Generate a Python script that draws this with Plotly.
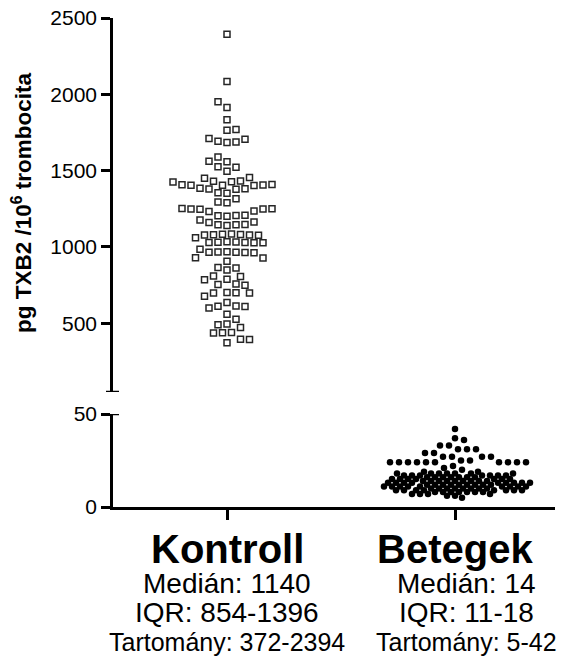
import numpy as np
import plotly.graph_objects as go

# ---------------- data ----------------
categories = ["Kontroll", "Betegek"]

kontroll_values = [
    2394, 2084, 1951, 1914, 1833, 1770, 1765, 1710, 1705, 1692, 1688, 1685,
    1590, 1562, 1558, 1526, 1522, 1496, 1455, 1450, 1432, 1430, 1428, 1426,
    1410, 1408, 1406, 1405, 1404, 1402, 1385, 1382, 1380, 1378, 1356, 1352,
    1316, 1294, 1290, 1252, 1250, 1249, 1248, 1247, 1236, 1232, 1208, 1206,
    1204, 1202, 1176, 1163, 1160, 1148, 1146, 1145, 1140, 1085, 1083, 1082,
    1080, 1079, 1078, 1077, 1060, 1034, 1032, 1031, 1030, 1029, 1028, 1027,
    985, 968, 967, 966, 965, 964, 963, 930, 928, 907, 866, 862, 850, 810,
    807, 788, 785, 757, 754, 750, 702, 700, 699, 698, 678, 636, 614, 612,
    610, 600, 560, 526, 495, 491, 472, 440, 438, 436, 396, 394, 372,
]

betegek_values = (
    [42, 37, 36, 33, 33, 31, 31, 31, 29, 29, 27, 27, 27, 27, 25, 25]
    + [24] * 10 + [22, 21, 20]
    + [19] * 2 + [18] * 7 + [17] * 7 + [16] * 7 + [15] * 7
    + [14] * 9 + [13] * 9 + [12] * 9 + [11] * 9 + [10] * 8
    + [9] * 8 + [8] * 7 + [7] * 4 + [6] * 2 + [5] * 1
)
kontroll_median = 1140
betegek_median = 14

kontroll_stats = ["Medián: 1140", "IQR: 854-1396", "Tartomány: 372-2394"]
betegek_stats = ["Medián: 14", "IQR: 11-18", "Tartomány: 5-42"]

top_ticks = [500, 1000, 1500, 2000, 2500]
bottom_ticks = [0, 50]
top_range = [50, 2500]
bottom_range = [0, 50]
y_title = "pg TXB2 /10<sup>6</sup> trombocita"

# ---------------- layout geometry (reference pixels) ----------------
OFF = 8                       # page body margin of the html page
W, H = 565 - OFF, 660 - OFF
AX_X, AX_R = 113, 555         # y-axis x position, right end of x-axis
Y_TOP, Y_BRK_TOP, Y_BRK_BOT, Y_ZERO = 18, 392, 414, 507
L, R, T, B = AX_X - OFF, 565 - AX_R, Y_TOP - OFF, 660 - Y_ZERO
PW, PH = W - L - R, H - T - B
X0_PX, X1_PX = 227, 455            # category centres
PX_PER_X = X1_PX - X0_PX
x_range = [-(X0_PX - AX_X) / PX_PER_X, (AX_R - X0_PX) / PX_PER_X]

bot_dom = [0, (Y_ZERO - Y_BRK_BOT) / PH]
top_dom = [(Y_ZERO - Y_BRK_TOP) / PH, 1]

top_px_per_unit = (Y_BRK_TOP - Y_TOP) / (top_range[1] - top_range[0])
bot_px_per_unit = (Y_ZERO - Y_BRK_BOT) / (bottom_range[1] - bottom_range[0])


def swarm(values, order_key, px_per_unit, step, radii_fn):
    """Greedy symmetric beeswarm in pixel space; returns x offsets in data units.
    radii_fn(a, b) -> (rx, ry): elliptical exclusion zone between two points."""
    vals = np.asarray(values, dtype=float)
    order = np.argsort([order_key(v) for v in vals], kind="stable")
    placed = []
    offs = np.zeros(len(vals))
    balance = 0.0

    def free(c, y, v):
        for (px, py, pv) in placed:
            rx, ry = radii_fn(v, pv)
            if ((c - px) / rx) ** 2 + ((y - py) / ry) ** 2 < 1 - 1e-6:
                return False
        return True

    for i in order:
        y = vals[i] * px_per_unit
        chosen = None
        if free(0.0, y, vals[i]):
            chosen = 0.0
        else:
            for j in range(1, 400):
                pos, neg = free(j * step, y, vals[i]), free(-j * step, y, vals[i])
                if pos and neg:
                    chosen = -j * step if balance > 0 else j * step
                elif pos:
                    chosen = j * step
                elif neg:
                    chosen = -j * step
                if chosen is not None:
                    break
        balance += chosen
        placed.append((chosen, y, vals[i]))
        offs[i] = chosen
    return offs / PX_PER_X


k_off = swarm(kontroll_values, lambda v: abs(v - kontroll_median),
              top_px_per_unit, 4.5, lambda a, b: (8.6, 8.6))
b_off = swarm(betegek_values,
              lambda v: -v if v >= 20 else 100 + abs(v - betegek_median),
              bot_px_per_unit, 1.0,
              lambda a, b: (9.0, 9.0) if min(a, b) >= 20 else (7.2, 4.2))

fig = go.Figure()
fig.add_trace(go.Scatter(
    x=0 + k_off, y=kontroll_values, mode="markers", xaxis="x", yaxis="y2",
    marker=dict(symbol="square-open", size=6, color="#262626",
                line=dict(width=1.5, color="#262626")),
    showlegend=False, hoverinfo="y", name=categories[0],
))
fig.add_trace(go.Scatter(
    x=1 + b_off, y=betegek_values, mode="markers", xaxis="x", yaxis="y",
    marker=dict(symbol="circle", size=6.5, color="black", line=dict(width=0)),
    showlegend=False, hoverinfo="y", name=categories[1],
))

font_family = "Liberation Sans, Arial, sans-serif"
axis_common = dict(showline=True, linewidth=2.5, linecolor="black",
                   ticks="outside", ticklen=9, tickwidth=2.5, tickcolor="black",
                   showgrid=False, zeroline=False, ticklabeloverflow="allow",
                   tickfont=dict(size=21, color="black", family=font_family))

fig.update_layout(
    width=W, height=H,
    margin=dict(l=L, r=R, t=T, b=B, autoexpand=False),
    paper_bgcolor="white", plot_bgcolor="white",
    xaxis=dict(range=x_range, domain=[0, 1], anchor="y", showline=True,
               linewidth=2.5, linecolor="black", ticks="outside", ticklen=10,
               tickwidth=2.5, tickcolor="black", tickvals=[0, 1],
               showticklabels=False, showgrid=False, zeroline=False),
    yaxis=dict(range=bottom_range, domain=bot_dom, tickvals=bottom_ticks,
               anchor="x", **axis_common),
    yaxis2=dict(range=top_range, domain=top_dom, tickvals=top_ticks,
                anchor="x", **axis_common),
)

# break caps at the segment ends
cap_l, cap_r = 7 / PW, 6 / PW
fig.add_shape(type="line", xref="paper", yref="y2", x0=-cap_l, x1=cap_r,
              y0=top_range[0], y1=top_range[0], line=dict(color="black", width=2.5))
fig.add_shape(type="line", xref="paper", yref="y", x0=-cap_l, x1=cap_r,
              y0=bottom_range[1], y1=bottom_range[1], line=dict(color="black", width=2.5))


def ypaper(py):
    return (Y_ZERO - py) / PH


def xpaper(px):
    return (px - AX_X) / PW


ann = []
stat_px = [X0_PX, 466]
for ci, (name, stats) in enumerate(zip(categories, [kontroll_stats, betegek_stats])):
    ann.append(dict(x=ci, xref="x", y=ypaper(549), yref="paper",
                    text=f"<b>{name}</b>", showarrow=False,
                    xanchor="center", yanchor="middle",
                    font=dict(size=40, color="black", family=font_family)))
    for txt, py, fs in zip(stats, [583, 612, 642], [28, 28, 25]):
        ann.append(dict(x=xpaper(stat_px[ci]), xref="paper", y=ypaper(py), yref="paper",
                        text=txt, showarrow=False,
                        xanchor="center", yanchor="middle",
                        font=dict(size=fs, color="black", family=font_family)))

ann.append(dict(x=xpaper(22), xref="paper", y=ypaper(203), yref="paper",
                text=f"<b>{y_title}</b>", showarrow=False, textangle=-90,
                xanchor="center", yanchor="middle",
                font=dict(size=22.5, color="black", family=font_family)))
fig.update_layout(annotations=ann)

fig.write_html("out.html")
